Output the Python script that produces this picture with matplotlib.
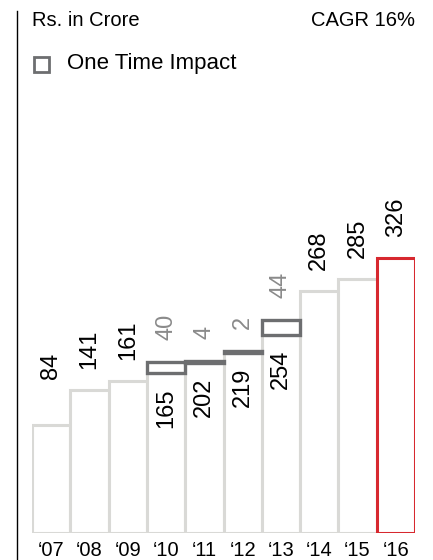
import numpy as np
import matplotlib.pyplot as plt

plt.rcParams['font.family'] = ['Liberation Sans', 'DejaVu Sans']

# Data (bar heights as drawn in the chart, labels as printed)
years = ['\u201807', '\u201808', '\u201809', '\u201810', '\u201811',
         '\u201812', '\u201813', '\u201814', '\u201815', '\u201816']
values = [84, 141, 161, 165, 202, 219, 254, 268, 285, 326]
drawn = [108, 143, 152, 160, 170, 180, 198, 242, 254, 275]
impact_values = [0, 0, 0, 40, 4, 2, 44, 0, 0, 0]
impact_drawn = [0, 0, 0, 11, 2, 2, 15, 0, 0, 0]
impact_years = [3, 4, 5, 6]

light = '#d9d9d6'
red = '#d7282f'
dark = '#6d6e70'

fig = plt.figure(figsize=(4.33, 5.6), dpi=100)
ax = fig.add_axes([32 / 433, 27 / 560, 383 / 433, 533 / 560])
ax.set_xlim(-0.5, 9.5)
ax.set_ylim(0, 533)
ax.axis('off')

x = np.arange(len(years))
edges = [light] * 9 + [red]
ax.bar(x, drawn, width=1.0, color='white', edgecolor=edges, linewidth=2.2, zorder=2)

# One time impact boxes stacked on top of the base bars
for i in impact_years:
    ax.bar(i, impact_drawn[i], bottom=drawn[i], width=1.0, color='white',
           edgecolor=dark, linewidth=2.4, zorder=3)

# value labels
for i in range(len(years)):
    if impact_values[i]:
        ax.text(i, drawn[i] - 15, str(values[i]), rotation=90, ha='center',
                va='top', fontsize=17, color='black', zorder=4)
        ax.text(i, drawn[i] + impact_drawn[i] + 22, str(impact_values[i]),
                rotation=90, ha='center', va='bottom', fontsize=17,
                color='#8a8a8a', zorder=4)
    else:
        gap = 46 if i == 0 else 21
        ax.text(i, drawn[i] + gap, str(values[i]), rotation=90, ha='center',
                va='bottom', fontsize=17, color='black', zorder=4)

    ax.text(i, -17, years[i], ha='center', va='center', fontsize=14.5,
            clip_on=False)

# left rule
fig.add_artist(plt.Line2D([16.5 / 433, 16.5 / 433], [0, 1 - 11 / 560],
                          color='black', linewidth=1.0))

fig.text(32 / 433, 1 - 20 / 560, 'Rs. in Crore', ha='left', va='center',
         fontsize=14.5)
fig.text(415 / 433, 1 - 20 / 560, 'CAGR 16%', ha='right', va='center',
         fontsize=14.5)
fig.add_artist(plt.Rectangle((34 / 433, 1 - 72 / 560), 15 / 433, 15 / 560,
                             facecolor='white', edgecolor=dark, linewidth=2.0))
fig.text(67 / 433, 1 - 64 / 560, 'One Time Impact', ha='left', va='center',
         fontsize=16)

fig.savefig('out.png', dpi=100)
